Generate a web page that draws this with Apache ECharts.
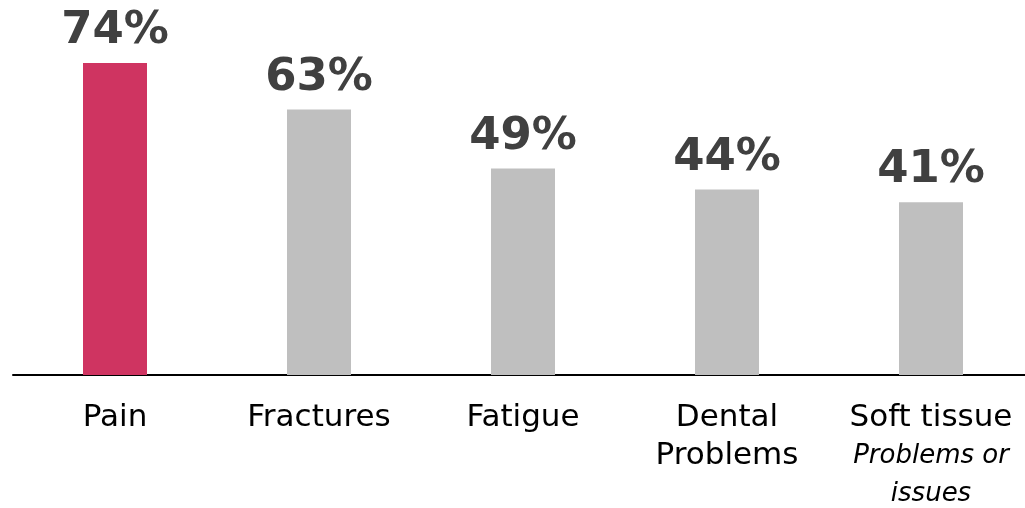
<!DOCTYPE html>
<html>
<head>
<meta charset="utf-8">
<script src="https://cdn.jsdelivr.net/npm/echarts@6/dist/echarts.min.js"></script>
<style>
  html, body { margin: 0; padding: 0; background: #fff; }
  #chart { width: 1025px; height: 508px; }
</style>
</head>
<body>
<div id="chart"></div>
<script>
// Share of respondents reporting each symptom (%)
const categories = ['Pain', 'Fractures', 'Fatigue', 'Dental\nProblems', 'Soft tissue'];
const values = [74, 63, 49, 44, 41];
const highlightIndex = 0;

const chart = echarts.init(document.getElementById('chart'));

chart.setOption({
  animation: false,
  grid: {
    left: 13, top: 63, width: 1020, height: 312,
    outerBoundsMode: 'none',
    containLabel: false
  },
  xAxis: {
    type: 'category',
    data: categories,
    axisLine: { lineStyle: { color: '#000', width: 2 } },
    axisTick: { show: false },
    axisLabel: {
      interval: 0,
      margin: 24,
      color: '#000',
      fontFamily: 'DejaVu Sans',
      fontSize: 31,
      lineHeight: 38,
      formatter: function (v) {
        if (v === 'Soft tissue') {
          return '{a|Soft tissue}\n{b|Problems or}\n{b|issues}';
        }
        return v;
      },
      rich: {
        a: { fontFamily: 'DejaVu Sans', fontSize: 31, lineHeight: 38, color: '#000' },
        b: { fontFamily: 'DejaVu Sans', fontStyle: 'italic', fontSize: 26, lineHeight: 38, color: '#000' }
      }
    }
  },
  yAxis: {
    type: 'value',
    min: 0,
    max: 74,
    show: false
  },
  series: [{
    type: 'bar',
    barWidth: 64,
    data: values.map(function (v, i) {
      return {
        value: v,
        itemStyle: { color: i === highlightIndex ? '#CF3461' : '#BFBFBF' }
      };
    }),
    label: {
      show: true,
      position: 'top',
      distance: 9,
      formatter: '{c}%',
      color: '#404040',
      fontFamily: 'DejaVu Sans',
      fontWeight: 'bold',
      fontSize: 45
    }
  }]
});
</script>
</body>
</html>
